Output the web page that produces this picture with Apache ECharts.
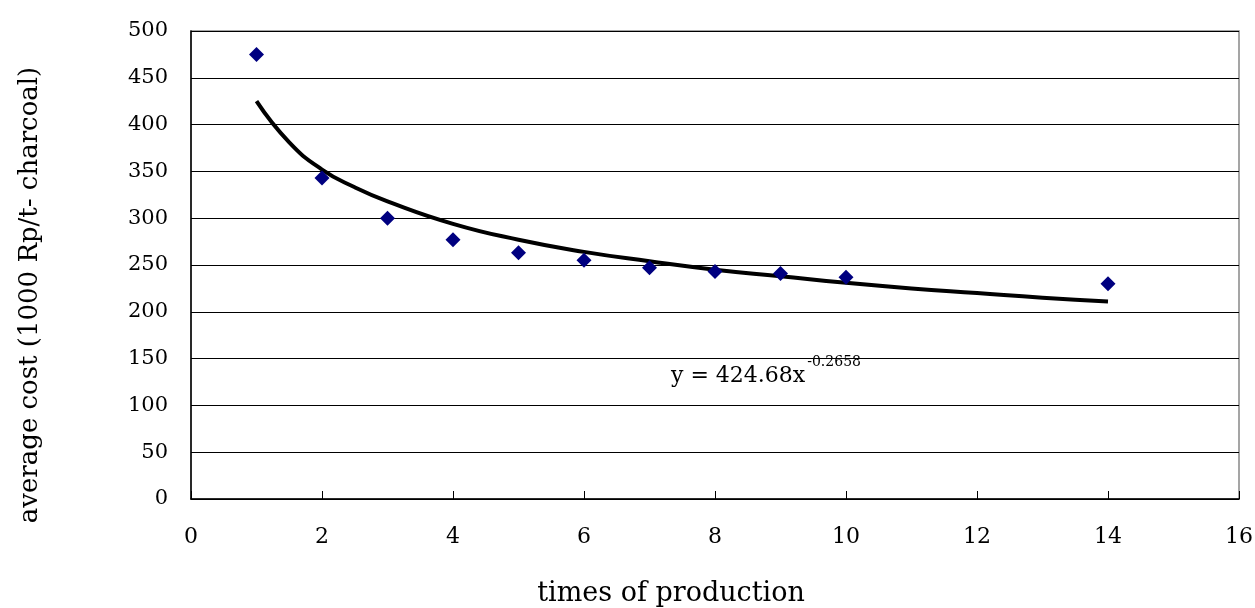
<!DOCTYPE html>
<html><head><meta charset="utf-8">
<script src="https://cdn.jsdelivr.net/npm/echarts@6/dist/echarts.min.js"></script>
<style>html,body{margin:0;padding:0;background:#fff}#c{width:1255px;height:608px}</style>
</head><body><div id="c"></div>
<script>
const xValues = [1, 2, 3, 4, 5, 6, 7, 8, 9, 10, 14];
const costValues = [475, 343, 300, 277, 263, 255, 247, 243, 241, 237, 230];
const trendX = [1, 1.5, 2, 2.5, 3, 4, 5, 6, 7, 8, 9, 10, 11, 12, 13, 14];
const trendY = [425, 381, 352, 333, 318, 294, 277, 264, 254, 245, 238, 231, 225, 220, 215, 211];
const xTitle = 'times of production';
const yTitle = 'average cost (1000 Rp/t- charcoal)';
const equation = ['y = 424.68x', '-0.2658'];

const font = '"DejaVu Serif", "Liberation Serif", serif';
const chart = echarts.init(document.getElementById('c'));
chart.setOption({
  animation: false,
  backgroundColor: '#fff',
  textStyle: { fontFamily: font },
  grid: { left: 191, right: 16, top: 31, bottom: 109, outerBoundsMode: 'none', containLabel: false,
          show: true, borderColor: '#888', borderWidth: 1.5 },
  xAxis: {
    type: 'value', min: 0, max: 16, interval: 2,
    axisLine: { show: true, lineStyle: { color: '#000', width: 1.5 } },
    axisTick: { show: true, inside: true, length: 8, lineStyle: { color: '#000' } },
    axisLabel: { fontFamily: font, fontSize: 22, color: '#000', margin: 27 },
    splitLine: { show: false }
  },
  yAxis: {
    type: 'value', min: 0, max: 500, interval: 50,
    axisLine: { show: true, lineStyle: { color: '#000', width: 1.5 } },
    axisTick: { show: true, inside: true, length: 8, lineStyle: { color: '#000' } },
    axisLabel: { fontFamily: font, fontSize: 21, color: '#000', margin: 23 },
    splitLine: { show: true, lineStyle: { color: '#000', width: 1 } }
  },
  series: [
    {
      type: 'line', data: trendX.map((x, i) => [x, trendY[i]]),
      smooth: true, symbol: 'none',
      lineStyle: { color: '#000', width: 4 }, z: 2
    },
    {
      type: 'scatter', data: xValues.map((x, i) => [x, costValues[i]]),
      symbol: 'diamond', symbolSize: 15,
      itemStyle: { color: '#000080', opacity: 1 }, z: 3
    }
  ],
  graphic: [
    {
      type: 'text', x: 30, y: 295, rotation: Math.PI / 2,
      style: { text: yTitle, fontFamily: font, fontSize: 26, fill: '#000', align: 'center', verticalAlign: 'middle' }
    },
    {
      type: 'text', x: 671, y: 594,
      style: { text: xTitle, fontFamily: font, fontSize: 27, fill: '#000', align: 'center', verticalAlign: 'middle' }
    },
    {
      type: 'text', x: 671, y: 355,
      style: {
        text: '{m|' + equation[0] + '}{s|' + equation[1] + '}',
        rich: {
          m: { fontFamily: font, fontSize: 22, fill: '#000', verticalAlign: 'bottom', lineHeight: 32 },
          s: { fontFamily: font, fontSize: 14, fill: '#000', verticalAlign: 'top', lineHeight: 32, padding: [0, 0, 18, 2] }
        }
      }
    }
  ]
});
</script></body></html>
